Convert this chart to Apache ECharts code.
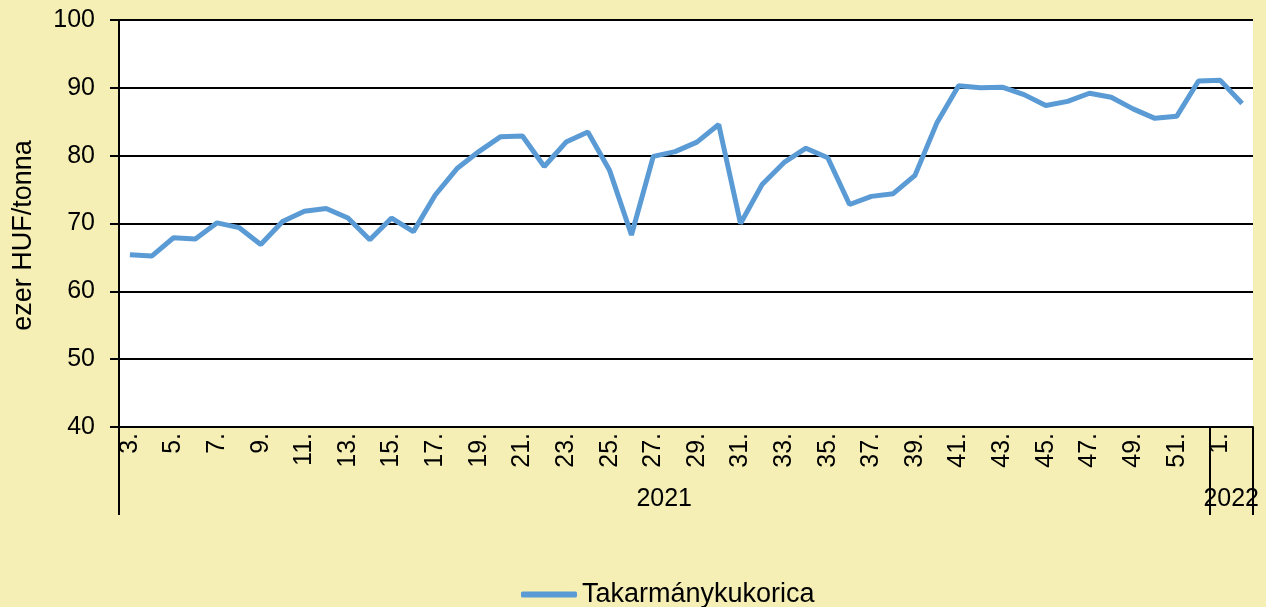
<!DOCTYPE html>
<html>
<head>
<meta charset="utf-8">
<script src="https://cdn.jsdelivr.net/npm/echarts@6/dist/echarts.min.js"></script>
<style>
  html, body { margin: 0; padding: 0; background: #F5EFB5; }
  #chart { width: 1266px; height: 607px; }
</style>
</head>
<body>
<div id="chart"></div>
<script>
// heti adatok: 2021. 3. héttől 2022. 2. hétig
var weeks = ['3.','4.','5.','6.','7.','8.','9.','10.','11.','12.','13.','14.','15.','16.','17.','18.','19.','20.',
  '21.','22.','23.','24.','25.','26.','27.','28.','29.','30.','31.','32.','33.','34.','35.','36.','37.','38.',
  '39.','40.','41.','42.','43.','44.','45.','46.','47.','48.','49.','50.','51.','52.','1.','2.'];
var kukorica = [65.4, 65.2, 67.9, 67.7, 70.1, 69.4, 66.9, 70.3, 71.8, 72.2, 70.8, 67.6, 70.8, 68.8, 74.2, 78.1,
  80.6, 82.8, 82.9, 78.4, 82.0, 83.5, 77.8, 68.3, 79.9, 80.6, 82.0, 84.6, 70.0, 75.8, 79.0, 81.1, 79.7, 72.8,
  74.0, 74.4, 77.1, 84.8, 90.3, 90.0, 90.1, 89.0, 87.4, 88.0, 89.2, 88.6, 86.9, 85.5, 85.8, 91.0, 91.1, 87.7];
var years = ['2021', '2022'];
var yearWeeks = [50, 2];
var yTicks = [40, 50, 60, 70, 80, 90, 100];

// évhatárok és évcímkék helye a hetek skáláján
var yearBounds = [0];
var yearMids = [];
yearWeeks.forEach(function (n, i) {
  yearMids.push(yearBounds[i] + n / 2);
  yearBounds.push(yearBounds[i] + n);
});

var font = 'Liberation Sans, Arial, sans-serif';
var chart = echarts.init(document.getElementById('chart'));

chart.setOption({
  backgroundColor: '#F5EFB5',
  animation: false,
  textStyle: { fontFamily: font },
  grid: { left: 119, right: 13, top: 20, bottom: 180, show: true, backgroundColor: '#fff', borderWidth: 0 },
  legend: {
    left: 516,
    top: 576,
    itemWidth: 56,
    itemHeight: 6,
    itemGap: 4,
    icon: 'roundRect',
    textStyle: { fontSize: 27, color: '#000', fontFamily: font },
    data: ['Takarmánykukorica']
  },
  xAxis: [{
    type: 'category',
    data: weeks,
    boundaryGap: true,
    axisLine: { lineStyle: { color: '#000', width: 2 } },
    axisTick: { show: false },
    axisLabel: { interval: 1, rotate: 90, color: '#000', fontSize: 25, margin: 6, fontFamily: font }
  }, {
    type: 'value',
    min: 0,
    max: yearBounds[yearBounds.length - 1],
    position: 'bottom',
    axisLine: { show: false },
    splitLine: { show: false },
    axisTick: { show: true, length: 88, customValues: yearBounds, lineStyle: { color: '#000', width: 2 } },
    axisLabel: {
      customValues: yearMids,
      margin: 60,
      color: '#000',
      fontSize: 25,
      fontFamily: font,
      formatter: function (v) { return years[yearMids.indexOf(v)]; }
    }
  }],
  yAxis: {
    type: 'value',
    min: yTicks[0],
    max: yTicks[yTicks.length - 1],
    interval: 10,
    name: 'ezer HUF/tonna',
    nameLocation: 'middle',
    nameGap: 82,
    nameTextStyle: { fontSize: 27, color: '#000', fontFamily: font, padding: [0, 24, 0, 0] },
    axisLine: { show: true, lineStyle: { color: '#000', width: 2 } },
    axisTick: { show: true, length: 9, lineStyle: { color: '#000', width: 2 } },
    axisLabel: { color: '#000', fontSize: 25, margin: 24, fontFamily: font },
    splitLine: { lineStyle: { color: '#000', width: 2 } }
  },
  series: [{
    name: 'Takarmánykukorica',
    type: 'line',
    data: kukorica,
    symbol: 'none',
    lineStyle: { color: '#5B9BD5', width: 5 },
    itemStyle: { color: '#5B9BD5' }
  }]
});
</script>
</body>
</html>
